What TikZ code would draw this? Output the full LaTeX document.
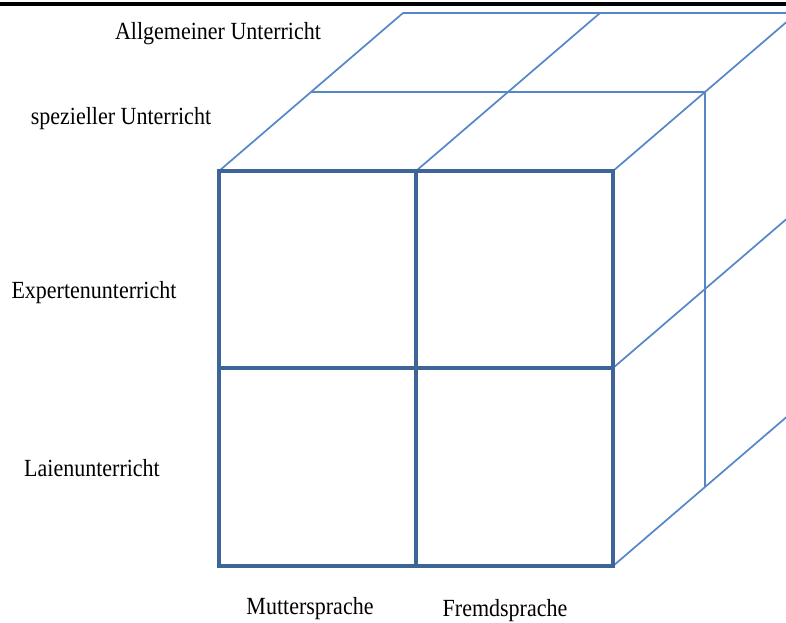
\documentclass[tikz,border=0pt]{standalone}
\usepackage{graphicx}
\usepackage{fontspec}
\setmainfont{Liberation Serif}
\definecolor{frontblue}{RGB}{62,100,152}
\definecolor{backblue}{RGB}{84,134,200}
\newcommand{\tallt}[1]{\scalebox{1}[1.12]{#1}}
\tikzset{
  frontline/.style={draw=frontblue,line width=3.4pt,line join=miter},
  backline/.style={draw=backblue,line width=1.7pt},
  lbl/.style={font=\fontsize{22}{25}\selectfont,inner sep=0pt}
}
\begin{document}
\begin{tikzpicture}[x=1pt,y=-1pt]
\useasboundingbox (0,0) rectangle (786,622);
\begin{scope}
\clip (0,0) rectangle (786,622);
% layer offset (92,-79)
\coordinate (fa) at (219,171);
\coordinate (fb) at (416,171);
\coordinate (fc) at (613,171);
\coordinate (fd) at (613,368);
\coordinate (fe) at (613,566);
\coordinate (ma) at (311,92);
\coordinate (mc) at (705,92);
\coordinate (md) at (705,289);
\coordinate (me) at (705,487);
\coordinate (ba) at (403,13);
\coordinate (bb) at (600,13);
\coordinate (bc) at (797,13);
\coordinate (bd) at (797,210);
\coordinate (be) at (797,408);
% top black rule
\draw[line width=3.5pt,black] (0,4) -- (786,4);
% receding lines
\draw[backline] (fa) -- (ba);
\draw[backline] (fb) -- (bb);
\draw[backline] (fc) -- (bc);
\draw[backline] (fd) -- (bd);
\draw[backline] (fe) -- (be);
\draw[backline] (ma) -- (mc) -- (me);
\draw[backline] (ba) -- (bc);
% front face
\draw[frontline] (219,171) rectangle (613,566);
\draw[frontline] (416,171) -- (416,566);
\draw[frontline] (219,368) -- (613,368);
\end{scope}
\node[lbl] (allg) at (218,34) {\tallt{Allgemeiner\ Unterricht}};
\node[lbl] (spez) at (121,119) {\tallt{spezieller\ Unterricht}};
\node[lbl] (expe) at (94,293) {\tallt{Expertenunterricht}};
\node[lbl] (laie) at (92,468) {\tallt{Laienunterricht}};
\node[lbl] (mutt) at (310,609) {\tallt{Muttersprache}};
\node[lbl] (frem) at (505,611) {\tallt{Fremdsprache}};
\end{tikzpicture}
\end{document}
